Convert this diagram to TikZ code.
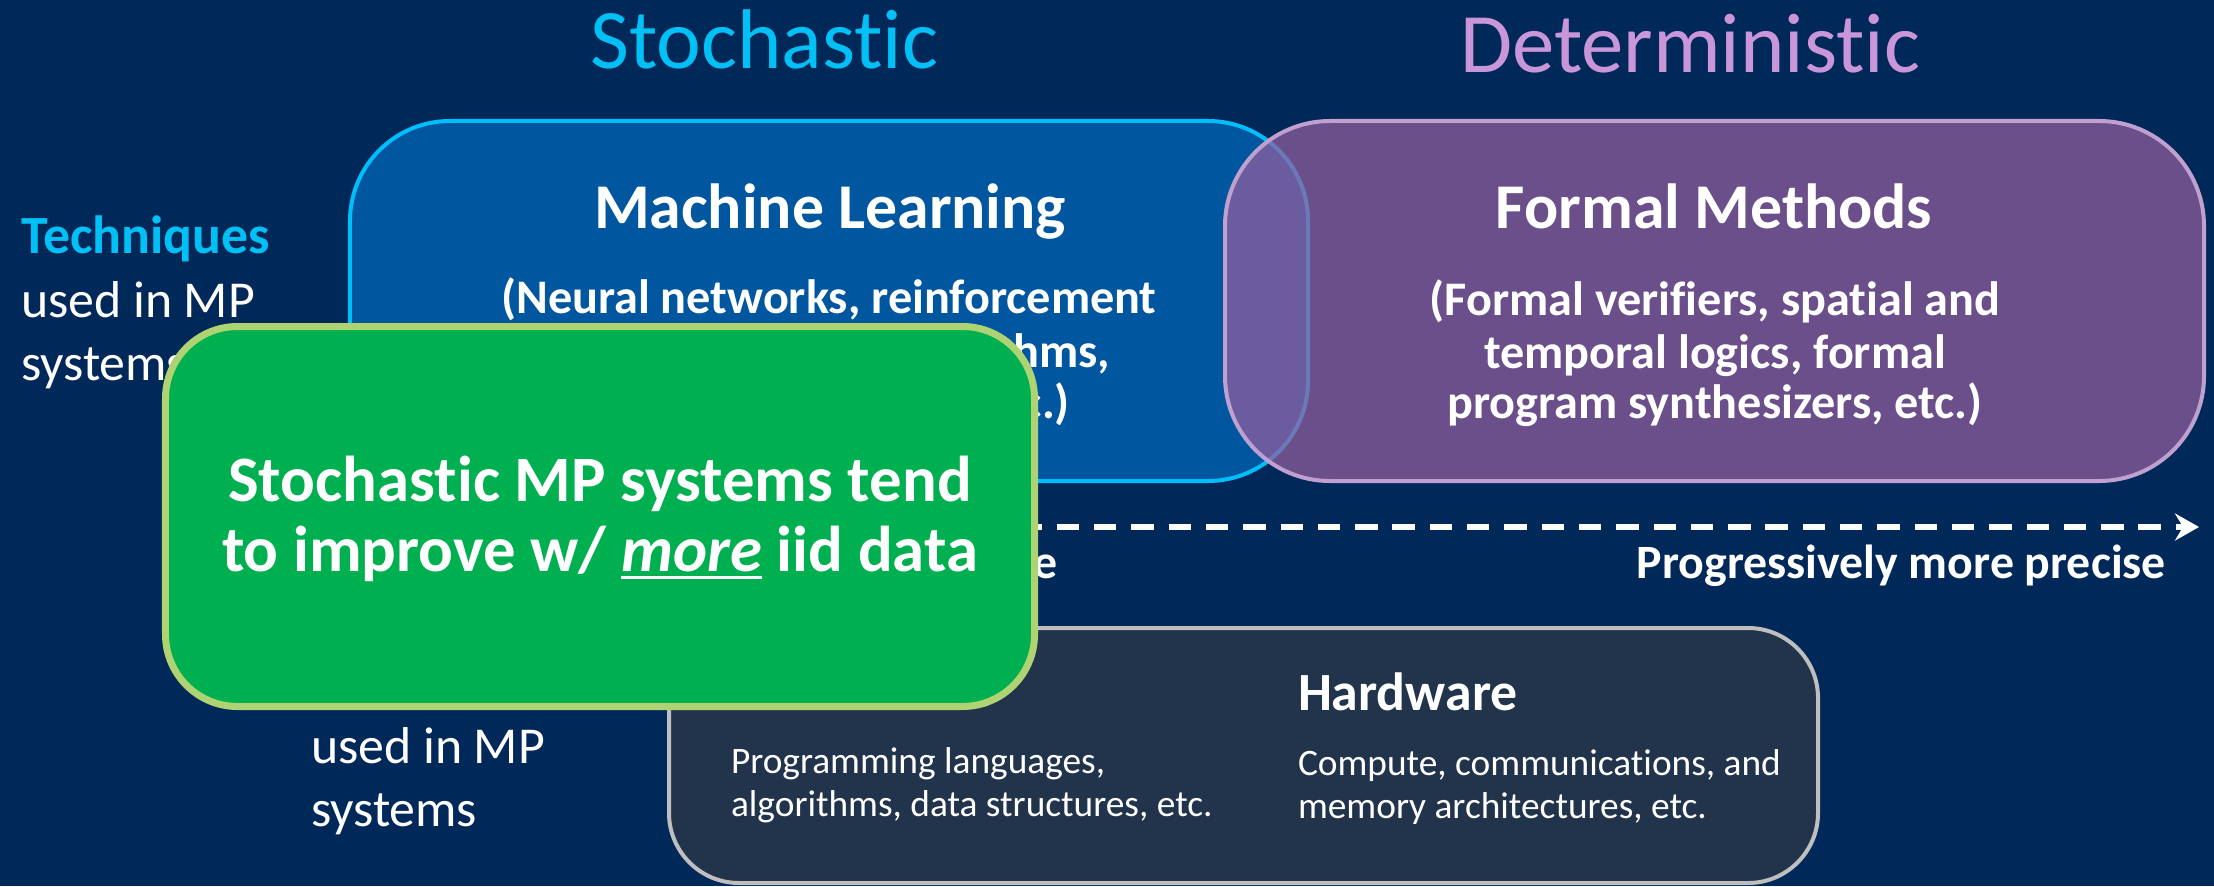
\documentclass[tikz,border=0pt]{standalone}
\usepackage{fontspec}
\setmainfont{Carlito}[Ligatures={NoCommon}]
\usetikzlibrary{arrows.meta}

\definecolor{bgnavy}{RGB}{0,41,90}
\definecolor{stochcyan}{RGB}{0,192,245}
\definecolor{detlilac}{RGB}{202,150,218}
\definecolor{mlfill}{RGB}{0,87,160}
\definecolor{mlborder}{RGB}{0,190,250}
\definecolor{fmfill}{RGB}{147,95,158}
\definecolor{fmborder}{RGB}{192,160,206}
\definecolor{notefill}{RGB}{0,176,80}
\definecolor{noteborder}{RGB}{175,210,115}
\definecolor{basefill}{RGB}{34,52,76}
\definecolor{baseborder}{RGB}{191,191,191}

\newcommand\fsz[1]{\fontsize{#1}{#1}\selectfont}
\newcommand\ulword[1]{\setbox0\hbox{#1}\rlap{\rule[-8pt]{\wd0}{3pt}}\box0\relax}

\tikzset{
  panel/.style={rectangle, inner sep=0pt, outer sep=0pt},
  txt/.style={inner sep=0pt, outer sep=0pt, text=white, anchor=base},
  txtw/.style={txt, anchor=base west},
  txte/.style={txt, anchor=base east},
  bigtitle/.style={font=\fsz{85}},
  head/.style={font=\bfseries\fsz{64}},
  sub/.style={font=\bfseries\fsz{48.4}},
  side/.style={font=\fsz{52}},
  basehead/.style={font=\bfseries\fsz{54}},
  basetext/.style={font=\fsz{37.5}},
  axislabel/.style={font=\bfseries\fsz{48}},
  notetext/.style={font=\bfseries\fsz{65}},
}

\begin{document}
\begin{tikzpicture}[x=1bp, y=-1bp]
\useasboundingbox (0,0) rectangle (2214,886);
\fill[bgnavy] (0,0) rectangle (2214,886);

% column titles
\node[txt, bigtitle, text=stochcyan] (stoch) at (764,68) {Stochastic};
\node[txt, bigtitle, text=detlilac] (determ) at (1690,72) {Deterministic};

% machine learning panel
\node[panel, fill=mlfill, draw=mlborder, line width=4bp, rounded corners=100bp,
      minimum width=958bp, minimum height=360bp] (ml) at (829,301) {};
\node[txt, head] (mltitle) at (830,228) {Machine Learning};
\node[txt, sub] (mlsub1) at (829,313) {(Neural networks, reinforcement};
\node[txte, sub] (mlsub2) at (1110,367) {learning, genetic algorithms,};
\node[txte, sub] (mlsub3) at (1070,418) {etc.)};

% formal methods panel (translucent)
\node[panel, fill=fmfill, fill opacity=0.72, draw=fmborder, line width=4bp,
      rounded corners=105bp, minimum width=979bp, minimum height=360bp] (fm) at (1714.5,301) {};
\node[txt, head] (fmtitle) at (1714,228) {Formal Methods};
\node[txt, sub] (fmsub1) at (1715,315) {(Formal verifiers, spatial and};
\node[txt, sub] (fmsub2) at (1715,368) {temporal logics, formal};
\node[txt, sub] (fmsub3) at (1715,418) {program synthesizers, etc.)};

% side labels, upper row
\node[txtw, side, font=\bfseries\fsz{54}, text=stochcyan] (techA) at (21,253) {Techniques};
\node[txtw, side] (techB) at (21,317) {used in MP};
\node[txtw, side] (techC) at (21,380) {systems};

% side labels, lower row
\node[txtw, side] (lowB) at (311,763) {used in MP};
\node[txtw, side] (lowC) at (311,826) {systems};

% implementation panel
\node[panel, fill=basefill, draw=baseborder, line width=4bp, rounded corners=70bp,
      minimum width=1149bp, minimum height=255bp] (base) at (1243.5,755.5) {};
\node[txtw, basehead] (hwtitle) at (1298,710) {Hardware};
\node[txtw, basetext] (hw1) at (1298,775) {Compute, communications, and};
\node[txtw, basetext] (hw2) at (1298,818) {memory architectures, etc.};
\node[txtw, basetext] (sw1) at (731,773) {Programming languages,};
\node[txtw, basetext] (sw2) at (731,816) {algorithms, data structures, etc.};

% precision axis
\coordinate (axisstart) at (683.7,527);
\coordinate (axisend) at (2199,527);
\draw[white, line width=6bp, dash pattern=on 22.4bp off 14.9bp,
      -{Stealth[length=24bp, width=27bp, inset=8bp]}] (axisstart) -- (axisend);
\node[txte, axislabel] (axisleft) at (1058,578) {Progressively more expressive};
\node[txte, axislabel] (axisright) at (2166,578) {Progressively more precise};

% callout
\node[panel, fill=notefill, draw=noteborder, line width=7bp, rounded corners=72bp,
      minimum width=869bp, minimum height=380bp] (note) at (600,516.5) {};
\node[txt, notetext] (note1) at (600,501) {Stochastic MP systems tend};
\node[txt, notetext] (note2) at (600,571) {to improve w/ \ulword{\itshape more} iid data};
\end{tikzpicture}
\end{document}
